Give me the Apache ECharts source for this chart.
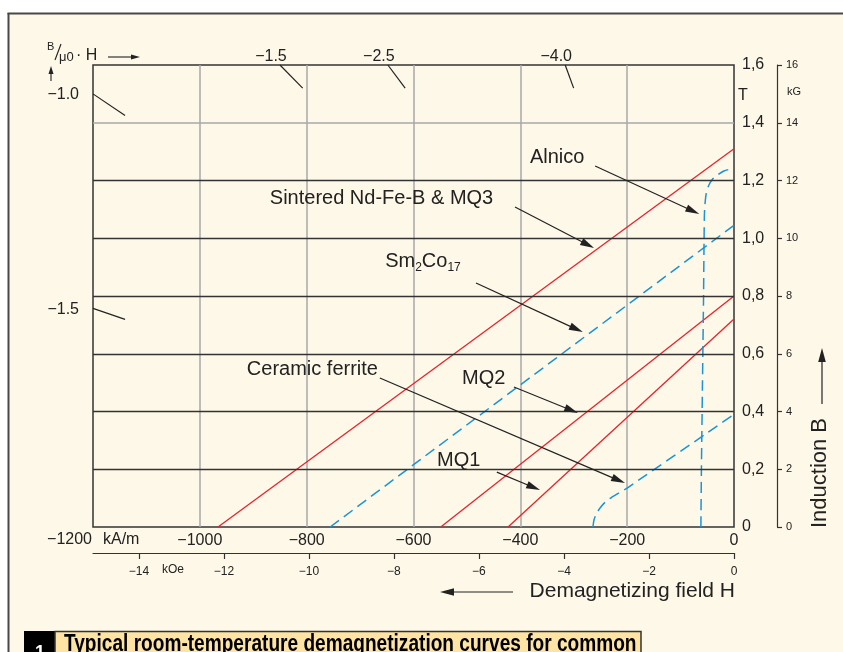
<!DOCTYPE html>
<html><head><meta charset="utf-8">
<script src="https://cdn.jsdelivr.net/npm/echarts@6/dist/echarts.min.js"></script>
<style>html,body{margin:0;padding:0;background:#fff}#c{width:843px;height:652px}</style>
</head><body><div id="c"></div>
<script>
// ---- data ----
const xTicks = [-1200, -1000, -800, -600, -400, -200, 0];          // kA/m
const yTicks = [0, 0.2, 0.4, 0.6, 0.8, 1.0, 1.2, 1.4, 1.6];          // T
const kOeTicks = [-14, -12, -10, -8, -6, -4, -2, 0];
const kGTicks = [0, 2, 4, 6, 8, 10, 12, 14, 16];

const ndfebH = [-966, 0];   const ndfebB = [0, 1.31];
const mq2H = [-549, 0];     const mq2B = [0, 0.80];
const mq1H = [-423, 0];     const mq1B = [0, 0.72];
const smcoH = [-756, 0];    const smcoB = [0, 1.045];
const alnicoH = [-62, -61, -59, -57, -56, -55, -52, -48, -40, -30, -20, -10, 0];
const alnicoB = [0, 0.2, 0.5, 0.8, 1.0, 1.10, 1.155, 1.18, 1.205, 1.22, 1.232, 1.238, 1.24];
const ferriteH = [-264, -262, -257, -249, -240, -228, -214, -200, 0];
const ferriteB = [0, 0.025, 0.048, 0.07, 0.088, 0.104, 0.12, 0.135, 0.39];

const blackGridB = [0.2, 0.4, 0.6, 0.8, 1.0, 1.2];
const grayGridB = [1.4];

const labelTexts = ['Alnico', 'Sintered Nd-Fe-B & MQ3', 'Sm{s|2}Co{s|17}', 'Ceramic ferrite', 'MQ2', 'MQ1'];
const labelH = [-382, -869, -653, -912, -509, -556];
const labelB = [1.278, 1.139, 0.918, 0.544, 0.516, 0.229];
const arrowFromH = [-260, -410, -483, -663, -412, -444];
const arrowFromB = [1.250, 1.108, 0.845, 0.516, 0.485, 0.190];
const arrowToH = [-65, -262, -283, -204, -292, -363];
const arrowToB = [1.084, 0.966, 0.675, 0.152, 0.395, 0.128];

const loadLabels = ['−1.0', '−1.5', '−2.5', '−4.0', '−1.5'];
const loadH = [-1200, -850, -648, -316, -1200];
const loadB = [1.50, 1.6, 1.6, 1.6, 0.757];
const loadSide = ['left', 'top', 'top', 'top', 'left'];

// ---- chart ----
const F = '"Liberation Sans", Arial, sans-serif';
const K = 79.5775; // kA/m per kOe
const INK = '#222';
const pts = (h, b) => h.map((v, i) => [v, b[i]]);
const minus = v => (v < 0 ? '−' + String(-v) : String(v));

const chart = echarts.init(document.getElementById('c'), null, { renderer: 'canvas' });

const red = { color: '#e8232b', width: 1.3 };
const blue = { color: '#1a94d6', width: 1.5, type: [11, 6] };

const option = {
  animation: false,
  backgroundColor: '#fef8e8',
  grid: { left: 93, right: 109, top: 65, bottom: 125, show: true, borderColor: '#333', borderWidth: 1.5, backgroundColor: 'transparent' },
  xAxis: [
    {
      type: 'value', min: xTicks[0], max: xTicks[xTicks.length - 1], interval: 200, position: 'bottom',
      axisLine: { show: false, onZero: false }, axisTick: { show: false },
      axisLabel: { fontFamily: F, fontSize: 16, color: INK, margin: 6, formatter: v => (v === xTicks[0] ? '' : minus(v)) },
      splitLine: { show: true, showMinLine: false, showMaxLine: false, lineStyle: { color: '#a9a9a9', width: 1.5 } }
    },
    {
      type: 'value', min: xTicks[0] / K, max: 0, position: 'bottom', offset: 26,
      axisLine: { show: true, onZero: false, lineStyle: { color: '#333', width: 1.2 } },
      axisTick: { show: true, length: 6, customValues: kOeTicks, lineStyle: { color: '#333', width: 1.2 } },
      axisLabel: { customValues: kOeTicks, fontFamily: F, fontSize: 12, color: INK, margin: 13, formatter: minus },
      splitLine: { show: false }
    }
  ],
  yAxis: [
    {
      type: 'value', min: yTicks[0], max: yTicks[yTicks.length - 1], interval: 0.2, position: 'right',
      axisLine: { show: false }, axisTick: { show: false },
      axisLabel: { fontFamily: F, fontSize: 16, color: INK, margin: 8, formatter: v => (v === 0 ? '0' : v.toFixed(1).replace('.', ',')) },
      splitLine: { show: false }
    },
    {
      type: 'value', min: kGTicks[0], max: kGTicks[kGTicks.length - 1], interval: 2, position: 'right', offset: 43,
      axisLine: { show: true, onZero: false, lineStyle: { color: '#333', width: 1.2 } },
      axisTick: { show: true, length: 5, lineStyle: { color: '#333', width: 1.2 } },
      axisLabel: { fontFamily: F, fontSize: 11, color: INK, margin: 9 },
      splitLine: { show: false }
    }
  ],
  series: [
    {
      type: 'line', name: 'gridlines', data: [], silent: true, z: 1,
      markLine: {
        silent: true, symbol: 'none', label: { show: false }, animation: false,
        data: blackGridB.map(v => ({ yAxis: v, lineStyle: { color: '#333', width: 1.3, type: 'solid' } }))
          .concat(grayGridB.map(v => ({ yAxis: v, lineStyle: { color: '#a9a9a9', width: 1.5, type: 'solid' } })))
      }
    },
    { type: 'line', name: 'Sintered Nd-Fe-B & MQ3', data: pts(ndfebH, ndfebB), showSymbol: false, lineStyle: red, z: 3 },
    { type: 'line', name: 'MQ2', data: pts(mq2H, mq2B), showSymbol: false, lineStyle: red, z: 3 },
    { type: 'line', name: 'MQ1', data: pts(mq1H, mq1B), showSymbol: false, lineStyle: red, z: 3 },
    { type: 'line', name: 'Sm2Co17', data: pts(smcoH, smcoB), showSymbol: false, lineStyle: blue, z: 3 },
    { type: 'line', name: 'Alnico', data: pts(alnicoH, alnicoB), showSymbol: false, smooth: 0.3, lineStyle: blue, z: 3 },
    { type: 'line', name: 'Ceramic ferrite', data: pts(ferriteH, ferriteB), showSymbol: false, smooth: 0.3, lineStyle: blue, z: 3 }
  ]
};
chart.setOption(option);

const toPx = (h, b) => chart.convertToPixel({ xAxisIndex: 0, yAxisIndex: 0 }, [h, b]);

function arrowEls(x1, y1, x2, y2, len, w, lw) {
  const a = Math.atan2(y2 - y1, x2 - x1);
  const c = Math.cos(a), s = Math.sin(a);
  const bx = x2 - len * c, by = y2 - len * s;
  return [
    { type: 'line', shape: { x1: x1, y1: y1, x2: bx + 2 * c, y2: by + 2 * s }, style: { stroke: INK, lineWidth: lw }, z: 50 },
    { type: 'polygon', shape: { points: [[x2, y2], [bx + w * s, by - w * c], [bx - w * s, by + w * c]] }, style: { fill: INK }, z: 50 }
  ];
}

const g = [];
// outer white margins + frame
g.push({ type: 'rect', shape: { x: 0, y: 0, width: 843, height: 13 }, style: { fill: '#fff' }, z: 40 });
g.push({ type: 'rect', shape: { x: 0, y: 0, width: 8, height: 652 }, style: { fill: '#fff' }, z: 40 });
g.push({ type: 'line', shape: { x1: 7.5, y1: 13.5, x2: 843, y2: 13.5 }, style: { stroke: '#484848', lineWidth: 2 }, z: 41 });
g.push({ type: 'line', shape: { x1: 8.5, y1: 13, x2: 8.5, y2: 652 }, style: { stroke: '#484848', lineWidth: 2 }, z: 41 });

// curve labels and arrows
labelTexts.forEach((t, i) => {
  const p = toPx(labelH[i], labelB[i]);
  g.push({
    type: 'text', x: p[0], y: p[1], z: 50,
    style: {
      text: t, fontFamily: F, fontSize: 20, fill: INK, align: 'left', verticalAlign: 'middle',
      rich: { s: { fontFamily: F, fontSize: 12, fill: INK, padding: [12, 0, 0, 0] } }
    }
  });
  const a = toPx(arrowFromH[i], arrowFromB[i]);
  const b = toPx(arrowToH[i], arrowToB[i]);
  arrowEls(a[0], a[1], b[0], b[1], 14, 3.8, 1.2).forEach(e => g.push(e));
});

// load-line marks (B/μ0H)
loadLabels.forEach((t, i) => {
  const p = toPx(loadH[i], loadB[i]);
  const q = toPx(loadH[i] * 0.95, loadB[i] * 0.95);
  g.push({ type: 'line', shape: { x1: p[0], y1: p[1], x2: q[0], y2: q[1] }, style: { stroke: INK, lineWidth: 1.2 }, z: 50 });
  if (loadSide[i] === 'top') {
    g.push({ type: 'text', x: p[0] - 9, y: p[1] - 8, z: 50, style: { text: t, fontFamily: F, fontSize: 16, fill: INK, align: 'center', verticalAlign: 'middle' } });
  } else {
    g.push({ type: 'text', x: p[0] - 14, y: p[1] + 1, z: 50, style: { text: t, fontFamily: F, fontSize: 16, fill: INK, align: 'right', verticalAlign: 'middle' } });
  }
});

// B/μ0·H header
g.push({ type: 'text', x: 47, y: 47, z: 50, style: { text: 'B', fontFamily: F, fontSize: 11, fill: INK, align: 'left', verticalAlign: 'middle' } });
g.push({ type: 'line', shape: { x1: 55, y1: 60, x2: 61, y2: 44 }, style: { stroke: INK, lineWidth: 1.1 }, z: 50 });
g.push({ type: 'text', x: 59, y: 57, z: 50, style: { text: 'μ0', fontFamily: F, fontSize: 13, fill: INK, align: 'left', verticalAlign: 'middle' } });
g.push({ type: 'text', x: 76, y: 56, z: 50, style: { text: '· H', fontFamily: F, fontSize: 16, fill: INK, align: 'left', verticalAlign: 'middle' } });
arrowEls(108, 57, 140, 57, 9, 2.5, 1.1).forEach(e => g.push(e));
arrowEls(51, 81, 51, 66, 8, 2.5, 1.1).forEach(e => g.push(e));

// axis unit texts
g.push({ type: 'text', x: 92, y: 540, z: 50, style: { text: '−1200', fontFamily: F, fontSize: 16, fill: INK, align: 'right', verticalAlign: 'middle' } });
g.push({ type: 'text', x: 103, y: 540, z: 50, style: { text: 'kA/m', fontFamily: F, fontSize: 16, fill: INK, align: 'left', verticalAlign: 'middle' } });
g.push({ type: 'text', x: 162, y: 570, z: 50, style: { text: 'kOe', fontFamily: F, fontSize: 12, fill: INK, align: 'left', verticalAlign: 'middle' } });
g.push({ type: 'text', x: 743, y: 96, z: 50, style: { text: 'T', fontFamily: F, fontSize: 16, fill: INK, align: 'center', verticalAlign: 'middle' } });
g.push({ type: 'text', x: 794, y: 92, z: 50, style: { text: 'kG', fontFamily: F, fontSize: 11, fill: INK, align: 'center', verticalAlign: 'middle' } });

// axis titles
g.push({ type: 'text', x: 735, y: 591, z: 50, style: { text: 'Demagnetizing field H', fontFamily: F, fontSize: 21, fill: INK, align: 'right', verticalAlign: 'middle' } });
arrowEls(513, 592, 440, 592, 14, 3.8, 1.2).forEach(e => g.push(e));
g.push({ type: 'text', x: 820, y: 473, rotation: Math.PI / 2, z: 50, style: { text: 'Induction B', fontFamily: F, fontSize: 22, fill: INK, align: 'center', verticalAlign: 'middle' } });
arrowEls(822, 404, 822, 348, 14, 3.8, 1.2).forEach(e => g.push(e));

// caption
g.push({ type: 'rect', shape: { x: 24, y: 631, width: 31, height: 30 }, style: { fill: '#000' }, z: 50 });
g.push({ type: 'rect', shape: { x: 55, y: 631.5, width: 586, height: 30 }, style: { fill: '#fde3a4', stroke: '#333', lineWidth: 1.5 }, z: 50 });
g.push({ type: 'text', x: 40, y: 644, z: 51, style: { text: '1', fontFamily: F, fontWeight: 'bold', fontSize: 18, fill: '#fff', align: 'center', verticalAlign: 'top' } });
g.push({ type: 'text', x: 64, y: 633, scaleX: 0.83, z: 51, style: { text: 'Typical room-temperature demagnetization curves for common', fontFamily: F, fontWeight: 'bold', fontSize: 23, fill: '#000', align: 'left', verticalAlign: 'top' } });

chart.setOption({ graphic: { elements: g } });
</script>
</body></html>
